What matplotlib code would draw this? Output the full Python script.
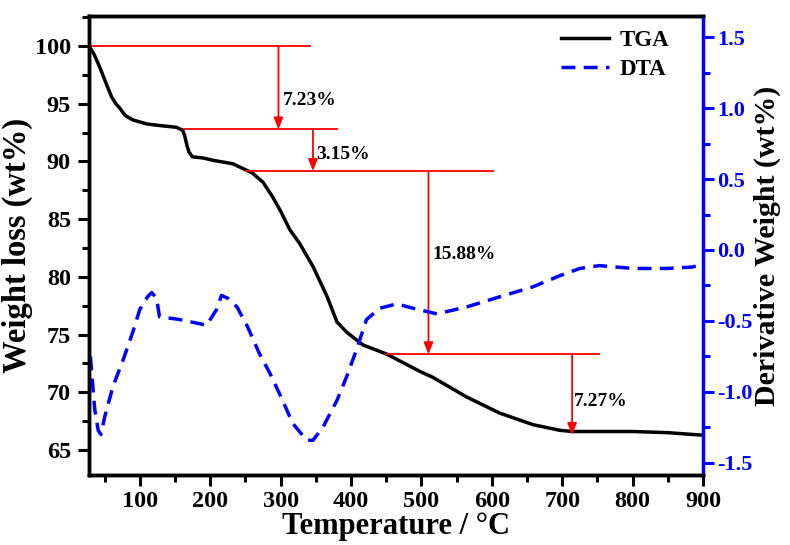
import matplotlib
matplotlib.use('Agg')
import matplotlib.pyplot as plt
from matplotlib.ticker import MultipleLocator

plt.rcParams['font.family'] = ['Liberation Serif', 'DejaVu Serif']
plt.rcParams['font.weight'] = 'bold'
plt.rcParams['axes.unicode_minus'] = False

# TGA curve (weight %)
tga_temp = [29, 35, 43, 52, 60, 66, 72, 79, 90, 110, 130, 152, 161, 164, 167, 170,
            175, 190, 204, 232, 260, 275, 289, 300, 313, 327, 346, 366, 380, 394,
            417, 451, 498, 516, 564, 611, 658, 697, 715, 800, 850, 895, 900]
tga_weight = [99.9, 99.3, 98.2, 96.8, 95.6, 95.0, 94.6, 94.0, 93.6, 93.25, 93.1, 92.96,
              92.7, 92.2, 91.4, 90.8, 90.4, 90.3, 90.1, 89.8, 89.0, 88.2, 86.9, 85.7,
              84.1, 82.9, 80.9, 78.3, 76.1, 75.2, 74.1, 73.3, 71.8, 71.3, 69.6, 68.2,
              67.2, 66.7, 66.6, 66.6, 66.5, 66.3, 66.3]

# DTA curve (derivative weight)
dta_temp = [30, 36, 41, 45, 50, 62, 76, 90, 100, 111, 117, 124, 128, 157, 195, 209,
            216, 225, 238, 253, 270, 285, 303, 317, 337, 346, 360, 380, 394, 408, 422,
            441, 465, 488, 522, 565, 611, 658, 697, 725, 753, 800, 849, 885, 900]
dta_value = [-0.75, -1.12, -1.27, -1.30, -1.18, -0.96, -0.78, -0.58, -0.42, -0.33,
             -0.30, -0.34, -0.47, -0.49, -0.53, -0.42, -0.32, -0.34, -0.40, -0.54,
             -0.73, -0.87, -1.06, -1.22, -1.34, -1.34, -1.25, -1.06, -0.89, -0.70,
             -0.49, -0.41, -0.38, -0.41, -0.45, -0.40, -0.33, -0.26, -0.18, -0.13,
             -0.11, -0.13, -0.13, -0.12, -0.10]

# weight-loss steps
step_start = [29, 161, 249, 448]
step_end = [343, 381, 603, 753]
step_arrow_x = [297, 346, 510, 714]
step_top = [100.0, 92.77, 89.17, 73.29]
step_bottom = [92.77, 89.17, 73.29, 66.3]
step_labels = ['7.23%', '3.15%', '15.88%', '7.27%']
label_pos = [(303, 95.3), (350, 90.6), (516, 81.9), (716, 69.2)]

fig = plt.figure(figsize=(7.9, 5.45), dpi=100)
ax = fig.add_axes([0.1127, 0.1284, 0.7773, 0.8422])
ax2 = ax.twinx()

ln1, = ax.plot(tga_temp, tga_weight, color='black', lw=2.5, label='TGA')
ln2, = ax2.plot(dta_temp, dta_value, color='blue', lw=2.5, linestyle=(0, (4, 2.4)),
                label='DTA')

for i in range(len(step_top)):
    ax.hlines(step_top[i], step_start[i], step_end[i], color='red', lw=1.3)
    ax.annotate('', xy=(step_arrow_x[i], step_bottom[i]), xytext=(step_arrow_x[i], step_top[i]),
                arrowprops=dict(arrowstyle='-|>,head_length=0.5,head_width=0.2', color='red',
                                lw=1.3, mutation_scale=14, shrinkA=0, shrinkB=0))
    ax.text(label_pos[i][0], label_pos[i][1], step_labels[i], fontsize=14,
            fontweight='bold', va='center', ha='left')

ax.set_xlim(28, 900)
ax.set_ylim(62.83, 102.6)
ax2.set_ylim(-1.585, 1.648)

ax.xaxis.set_major_locator(MultipleLocator(100))
ax.xaxis.set_minor_locator(MultipleLocator(50))
ax.yaxis.set_major_locator(MultipleLocator(5))
ax.yaxis.set_minor_locator(MultipleLocator(2.5))
ax2.yaxis.set_major_locator(MultipleLocator(0.5))
ax2.yaxis.set_minor_locator(MultipleLocator(0.25))

ax.tick_params(which='major', direction='out', length=8, width=2.2, labelsize=17.5, pad=5)
ax.tick_params(which='minor', direction='out', length=5, width=2.2)
ax.tick_params(axis='x', top=False, which='both', pad=3.5)
ax2.tick_params(which='major', direction='out', length=8, width=2.2, labelsize=16,
                colors='blue', pad=2)
ax2.tick_params(which='minor', direction='out', length=5, width=2.2, colors='blue')

for s in ['left', 'bottom', 'top']:
    ax.spines[s].set_linewidth(2.5)
    ax2.spines[s].set_linewidth(2.5)
ax2.spines['right'].set_linewidth(2.5)
ax2.spines['right'].set_color('blue')
ax.spines['right'].set_visible(False)

ax.set_xlabel('Temperature / °C', fontsize=22, fontweight='bold', labelpad=0)
ax.set_ylabel('Weight loss (wt%)', fontsize=23.5, fontweight='bold', labelpad=1)
ax2.set_ylabel('Derivative Weight (wt%)', fontsize=21.5, fontweight='bold', labelpad=1)

leg = ax.legend(handles=[ln1, ln2], loc='upper right', bbox_to_anchor=(0.967, 1.0),
                frameon=False, fontsize=16.5, handlelength=2.1, handletextpad=0.45,
                borderaxespad=0.2, labelspacing=0.35)
for t in leg.get_texts():
    t.set_fontweight('bold')

fig.savefig('out.png', dpi=100)
